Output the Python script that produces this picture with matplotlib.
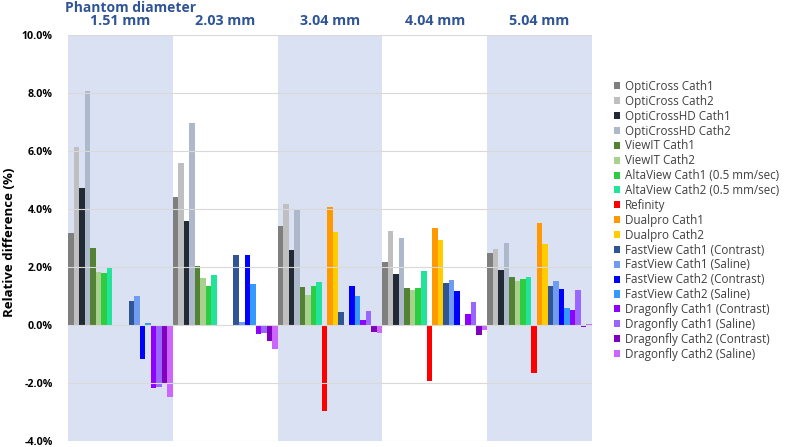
import numpy as np
import matplotlib
matplotlib.use("Agg")
import matplotlib.pyplot as plt
from matplotlib.patches import Patch

plt.rcParams['font.family'] = ['Open Sans', 'DejaVu Sans']

diameters = ["1.51 mm", "2.03 mm", "3.04 mm", "4.04 mm", "5.04 mm"]

series = [
    "OptiCross Cath1", "OptiCross Cath2", "OptiCrossHD Cath1", "OptiCrossHD Cath2",
    "ViewIT Cath1", "ViewIT Cath2", "AltaView Cath1 (0.5 mm/sec)", "AltaView Cath2 (0.5 mm/sec)",
    "Refinity", "Dualpro Cath1", "Dualpro Cath2",
    "FastView Cath1 (Contrast)", "FastView Cath1 (Saline)", "FastView Cath2 (Contrast)",
    "FastView Cath2 (Saline)", "Dragonfly Cath1 (Contrast)", "Dragonfly Cath1 (Saline)",
    "Dragonfly Cath2 (Contrast)", "Dragonfly Cath2 (Saline)",
]

nan = np.nan
# relative difference (%) per phantom diameter, one value per series (in series order)
values_151 = [3.17, 6.15, 4.71, 8.07, 2.65, 1.82, 1.80, 1.97, nan, nan, nan,
              0.84, 1.00, -1.18, 0.06, -2.17, -2.13, -2.00, -2.48]
values_203 = [4.41, 5.59, 3.58, 6.98, 2.03, 1.61, 1.33, 1.72, nan, nan, nan,
              2.42, 0.09, 2.40, 1.42, -0.32, -0.29, -0.55, -0.84]
values_304 = [3.41, 4.16, 2.58, 3.99, 1.30, 1.04, 1.33, 1.50, -2.96, 4.07, 3.19,
              0.44, nan, 1.33, 1.01, 0.16, 0.48, -0.25, -0.29]
values_404 = [2.18, 3.24, 1.76, 3.01, 1.28, 1.19, 1.28, 1.85, -1.94, 3.33, 2.92,
              1.45, 1.56, 1.16, nan, 0.38, 0.78, -0.36, -0.17]
values_504 = [2.49, 2.61, 1.89, 2.84, 1.64, 1.53, 1.59, 1.65, -1.65, 3.51, 2.80,
              1.35, 1.52, 1.25, 0.60, 0.52, 1.19, -0.06, 0.03]

y_ticks = [-4, -2, 0, 2, 4, 6, 8, 10]
y_ticklabels = ["-4.0%", "-2.0%", "0.0%", "2.0%", "4.0%", "6.0%", "8.0%", "10.0%"]

colors = ["#7f7f7f", "#bfbfbf", "#222a35", "#adb9ca",
          "#548235", "#a9d18e", "#2ecc40", "#22e39a",
          "#ff0000", "#ff9900", "#ffcc00",
          "#2f5597", "#6f9cf0", "#0000ff", "#3399ff",
          "#8f00ff", "#9966ff", "#7f00bf", "#cc66ff"]

data = np.array([values_151, values_203, values_304, values_404, values_504], dtype=float)

fig = plt.figure(figsize=(7.87, 4.47), dpi=100)
ax = fig.add_axes([68/787, 1-441/447, (592-68)/787, (441-35)/447])

n_groups = len(diameters)
n_series = len(series)
w = 1.0 / n_series
gx = np.arange(n_groups)

for g in range(0, n_groups, 2):
    ax.axvspan(g - 0.5, g + 0.5, color="#d9e1f2", zorder=0, lw=0)

for i in range(n_series):
    xs = gx - 0.5 + (i + 0.5) * w
    ax.bar(xs, data[:, i], width=w, color=colors[i], zorder=2, linewidth=0)

ax.set_xlim(-0.5, n_groups - 0.5)
ax.set_ylim(-4, 10)
ax.set_yticks(y_ticks)
ax.set_yticklabels(y_ticklabels, fontsize=7.7, fontweight="bold")
ax.set_xticks([])
ax.yaxis.grid(True, color="#d9d9d9", lw=0.8, zorder=1)
ax.set_axisbelow(False)
for s in ax.spines.values():
    s.set_visible(False)
ax.tick_params(axis="y", length=0, pad=11)

for g, lab in enumerate(diameters):
    ax.text(g, 10.25, lab, ha="center", va="bottom", fontsize=10.3, fontweight="bold",
            color="#2f5597", transform=ax.transData, clip_on=False)

fig.text(65/787, 1-8/447, "Phantom diameter", ha="left", va="center", fontsize=10,
         fontweight="bold", color="#2f5597")
fig.text(10/787, 1-242/447, "Relative difference (%)", rotation=90, ha="center", va="center",
         fontsize=9.5, fontweight="bold")

handles = [Patch(facecolor=c, edgecolor="none") for c in colors]
leg = fig.legend(handles, series, loc="upper left", bbox_to_anchor=(614/787, 1-80/447),
                 frameon=False, fontsize=8.4, handlelength=0.55, handleheight=0.55,
                 handletextpad=0.4, labelspacing=0.16, borderaxespad=0, borderpad=0)
for t in leg.get_texts():
    t.set_color("#404040")

fig.savefig("out.png", dpi=100)
